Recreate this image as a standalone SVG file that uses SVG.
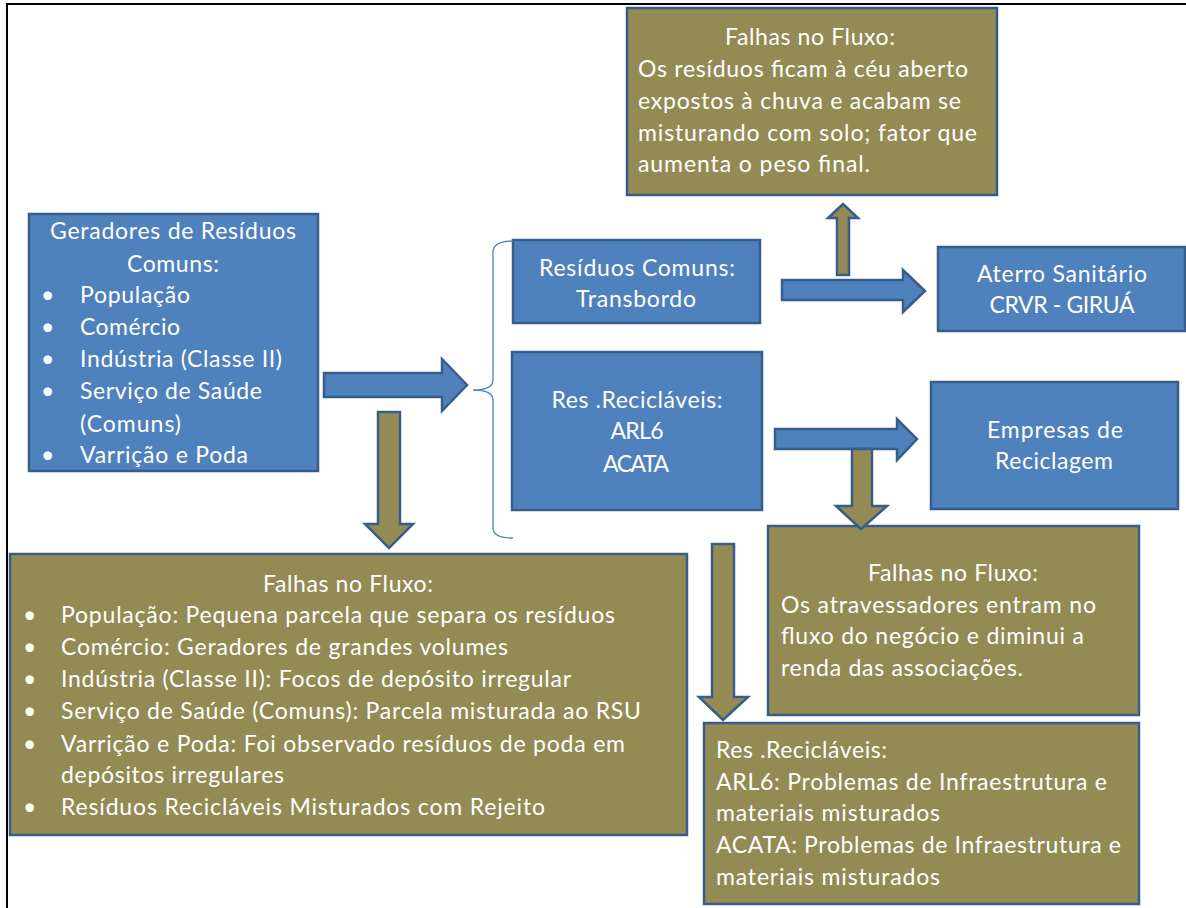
<svg xmlns="http://www.w3.org/2000/svg" width="1186" height="908" viewBox="0 0 1186 908">
<style>
.blue{fill:#4f81bd;stroke:#385d8a;stroke-width:2.5}
.olive{fill:#948a54;stroke:#385d8a;stroke-width:2.5}
text{font-family:Lato,"Liberation Sans",sans-serif;font-size:23px;fill:#ffffff}
.c{text-anchor:middle}
.frame{stroke:#000;stroke-width:2;fill:none}
.brace{fill:none;stroke:#4f81bd;stroke-width:1.3}
</style>
<rect x="0" y="0" width="1186" height="908" fill="#ffffff"/>
<path class="frame" d="M7,908 V4 H1186"/>

<g id="geradores">
<rect class="blue" x="29" y="214" width="289" height="257"/>
<text class="c" x="173" y="239" textLength="246" lengthAdjust="spacing">Geradores de Resíduos</text>
<text class="c" x="173" y="272" textLength="92" lengthAdjust="spacing">Comuns:</text>
<text x="41" y="303">•</text><text x="80" y="303" textLength="110" lengthAdjust="spacing">População</text>
<text x="41" y="335">•</text><text x="80" y="335" textLength="100" lengthAdjust="spacing">Comércio</text>
<text x="41" y="367">•</text><text x="80" y="367" textLength="202" lengthAdjust="spacing">Indústria (Classe II)</text>
<text x="41" y="399">•</text><text x="80" y="399" textLength="182" lengthAdjust="spacing">Serviço de Saúde</text>
<text x="80" y="432" textLength="101" lengthAdjust="spacing">(Comuns)</text>
<text x="41" y="463">•</text><text x="80" y="463" textLength="168" lengthAdjust="spacing">Varrição e Poda</text>
</g>

<g id="falhas-top">
<rect class="olive" x="627" y="8" width="370" height="187"/>
<text class="c" x="810" y="45" textLength="170" lengthAdjust="spacing">Falhas no Fluxo:</text>
<text x="638" y="77" textLength="330" lengthAdjust="spacing">Os resíduos ficam à céu aberto</text>
<text x="638" y="109" textLength="323" lengthAdjust="spacing">expostos à chuva e acabam se</text>
<text x="638" y="141" textLength="339" lengthAdjust="spacing">misturando com solo; fator que</text>
<text x="638" y="172" textLength="232" lengthAdjust="spacing">aumenta o peso final.</text>
</g>

<g id="residuos-comuns">
<rect class="blue" x="513" y="240" width="247" height="83"/>
<text class="c" x="637" y="276" textLength="196" lengthAdjust="spacing">Resíduos Comuns:</text>
<text class="c" x="636" y="307" textLength="120" lengthAdjust="spacing">Transbordo</text>
</g>

<g id="aterro">
<rect class="blue" x="938" y="247" width="247" height="84"/>
<text class="c" x="1062" y="282" textLength="170" lengthAdjust="spacing">Aterro Sanitário</text>
<text class="c" x="1062" y="313" textLength="145" lengthAdjust="spacing">CRVR - GIRUÁ</text>
</g>

<g id="res-reciclaveis">
<rect class="blue" x="512" y="352" width="250" height="158"/>
<text class="c" x="637" y="408" textLength="171" lengthAdjust="spacing">Res .Recicláveis:</text>
<text class="c" x="637" y="439" textLength="53" lengthAdjust="spacing">ARL6</text>
<text class="c" x="636" y="472" textLength="66" lengthAdjust="spacing">ACATA</text>
</g>

<g id="empresas">
<rect class="blue" x="931" y="382" width="247" height="127"/>
<text class="c" x="1055" y="438" textLength="136" lengthAdjust="spacing">Empresas de</text>
<text class="c" x="1054" y="469" textLength="118" lengthAdjust="spacing">Reciclagem</text>
</g>

<g id="falhas-mid">
<rect class="olive" x="768" y="526" width="371" height="189"/>
<text class="c" x="953" y="581" textLength="170" lengthAdjust="spacing">Falhas no Fluxo:</text>
<text x="781" y="613" textLength="315" lengthAdjust="spacing">Os atravessadores  entram no</text>
<text x="781" y="644" textLength="303" lengthAdjust="spacing">fluxo do negócio e diminui a</text>
<text x="781" y="676" textLength="242" lengthAdjust="spacing">renda das associações.</text>
</g>

<g id="falhas-bottom">
<rect class="olive" x="10" y="554" width="677" height="281"/>
<text class="c" x="348" y="592" textLength="170" lengthAdjust="spacing">Falhas no Fluxo:</text>
<text x="23" y="623">•</text><text x="61" y="623" textLength="554" lengthAdjust="spacing">População: Pequena parcela que separa os resíduos</text>
<text x="23" y="655">•</text><text x="61" y="655" textLength="447" lengthAdjust="spacing">Comércio: Geradores de grandes volumes</text>
<text x="23" y="687">•</text><text x="61" y="687" textLength="510" lengthAdjust="spacing">Indústria (Classe II): Focos de depósito irregular</text>
<text x="23" y="719">•</text><text x="61" y="719" textLength="580" lengthAdjust="spacing">Serviço de Saúde (Comuns): Parcela misturada ao RSU</text>
<text x="23" y="752">•</text><text x="61" y="752" textLength="564" lengthAdjust="spacing">Varrição e Poda: Foi observado resíduos de poda em</text>
<text x="61" y="783" textLength="223" lengthAdjust="spacing">depósitos irregulares</text>
<text x="23" y="815">•</text><text x="61" y="815" textLength="484" lengthAdjust="spacing">Resíduos Recicláveis  Misturados com Rejeito</text>
</g>

<g id="falhas-reciclaveis">
<rect class="olive" x="704" y="723" width="435" height="181"/>
<text x="716" y="758" textLength="171" lengthAdjust="spacing">Res .Recicláveis:</text>
<text x="716" y="790" textLength="391" lengthAdjust="spacing">ARL6: Problemas de Infraestrutura  e</text>
<text x="716" y="821" textLength="224" lengthAdjust="spacing">materiais misturados</text>
<text x="716" y="853" textLength="405" lengthAdjust="spacing">ACATA: Problemas de Infraestrutura  e</text>
<text x="716" y="885" textLength="224" lengthAdjust="spacing">materiais misturados</text>
</g>

<g id="connectors">
<path class="brace" d="M513,241 Q493,241 493,252 V380 Q493,390 473,390 Q493,390 493,400 V528 Q493,538 513,538"/>
<polygon class="blue" points="324,373 442,373 442,359 467,385 442,411 442,397 324,397"/>
<polygon class="olive" points="378,412 400,412 400,524 413,524 389,548 365,524 378,524"/>
<polygon class="olive" points="837,275 849,275 849,218 858,218 843,204 828,218 837,218"/>
<polygon class="blue" points="782,280 903,280 903,270 925,291 903,312 903,300 782,300"/>
<polygon class="blue" points="775,429 897,429 897,419 917,439 897,460 897,449 775,449"/>
<polygon class="olive" points="852,449 872,449 872,506 887,506 861,529 836,506 852,506"/>
<polygon class="olive" points="712,544 734,544 734,697 748,697 723,720 699,697 712,697"/>
</g>
</svg>
